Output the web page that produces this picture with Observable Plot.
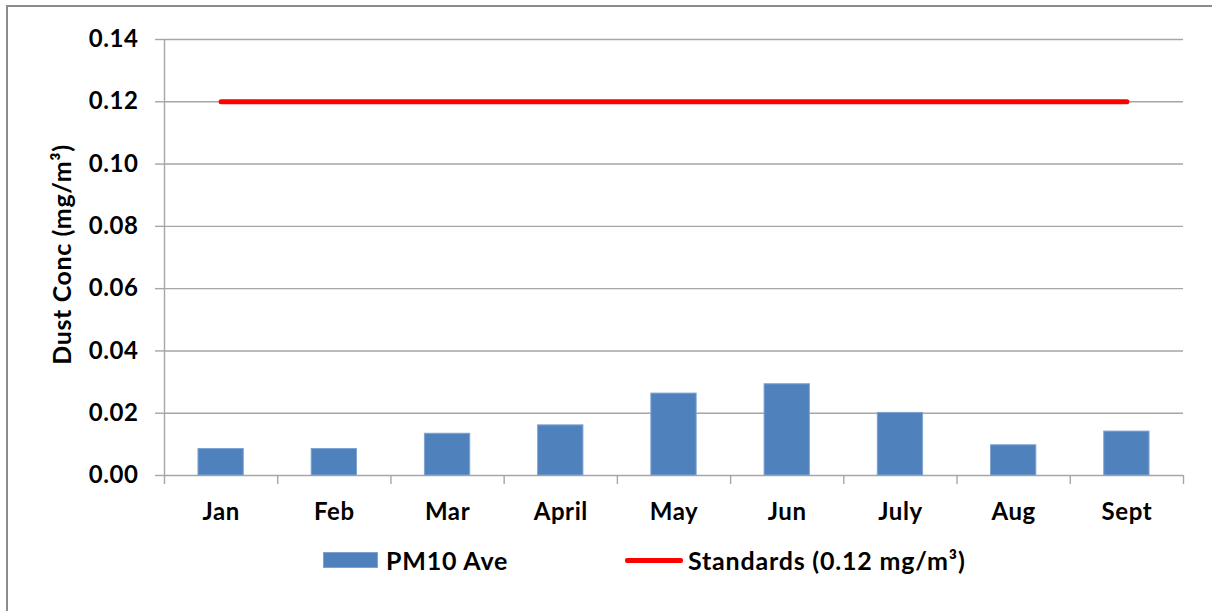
<!DOCTYPE html>
<html>
<head>
<meta charset="utf-8">
<script src="https://cdn.jsdelivr.net/npm/d3@7"></script>
<script src="https://cdn.jsdelivr.net/npm/@observablehq/plot@0.6"></script>
<style>
  html, body { margin: 0; padding: 0; background: #fff; overflow: hidden; width: 1212px; height: 611px; }
  #frame { position: absolute; left: 6px; top: 5px; width: 1400px; height: 800px; border-left: 2px solid #8c8c8c; border-top: 2px solid #8c8c8c; }
  #chart { position: absolute; left: 0; top: 0; }
  #chart svg text { letter-spacing: 0.6px; }
  #legend { position: absolute; left: 0; top: 530px; width: 1212px; height: 81px; font-family: Lato, sans-serif; font-weight: bold; font-size: 25px; letter-spacing: 0.8px; color: #000; }
  .item { position: absolute; top: 16px; height: 28px; display: flex; align-items: center; white-space: nowrap; }
  .sw { width: 55px; height: 16px; background: #4f81bd; margin-right: 8px; box-sizing: border-box; border: 1px solid #7fa3d0; }
  .ln { width: 58px; height: 5px; background: #ff0000; border-radius: 2px; margin-right: 5px; }
</style>
</head>
<body>
<div id="frame"></div>
<div id="chart"></div>
<div id="legend"></div>
<script>
const months = ["Jan", "Feb", "Mar", "April", "May", "Jun", "July", "Aug", "Sept"];
const pm10 = [0.0085, 0.0085, 0.0134, 0.0161, 0.0263, 0.0293, 0.0201, 0.0097, 0.0141];
const standards = [0.12, 0.12, 0.12, 0.12, 0.12, 0.12, 0.12, 0.12, 0.12];
const yTicks = [0, 0.02, 0.04, 0.06, 0.08, 0.10, 0.12, 0.14];
const yLabel = "Dust Conc (mg/m³)";
const seriesNames = ["PM10 Ave", "Standards (0.12 mg/m³)"];

const bars = months.map((m, i) => ({i, month: m, value: pm10[i]}));
const stdLine = months.map((m, i) => ({i, value: standards[i]}));
const boundaries = d3.range(months.length + 1).map(k => k - 0.5);

const gridColor = "#a6a6a6";
const font = "Lato, sans-serif";

const chart = Plot.plot({
  width: 1212,
  height: 530,
  marginLeft: 164,
  marginRight: 29,
  marginTop: 39,
  marginBottom: 55,
  style: {fontFamily: font, background: "transparent", overflow: "visible"},
  x: {type: "linear", domain: [-0.5, months.length - 0.5], axis: null},
  y: {domain: [0, 0.14], axis: null},
  marks: [
    Plot.ruleY(yTicks, {y: d => d, x1: -0.5, x2: months.length - 0.5, stroke: gridColor, strokeWidth: 1.4}),
    Plot.ruleX([-0.5], {x: d => d, y1: 0, y2: 0.14, stroke: gridColor, strokeWidth: 1.4}),
    Plot.axisY({ticks: yTicks, tickSize: 9, tickPadding: 17, tickFormat: d3.format(".2f"),
      stroke: gridColor, strokeWidth: 1.4, strokeOpacity: 1, fontSize: 24, fontWeight: "bold", fill: "#000", label: null}),
    Plot.axisX({ticks: boundaries, tickSize: 9, tickFormat: () => "", stroke: gridColor, strokeWidth: 1.4, strokeOpacity: 1, label: null}),
    Plot.axisX({ticks: d3.range(months.length), tickSize: 0, tickPadding: 27, tickFormat: i => months[i],
      fontSize: 24, fontWeight: "bold", fill: "#000", label: null}),
    Plot.rectY(bars, {x1: d => d.i - 0.2, x2: d => d.i + 0.2, y1: 0, y2: "value", fill: "#4f81bd", stroke: "#7fa3d0", strokeWidth: 1}),
    Plot.line(stdLine, {x: "i", y: "value", stroke: "#ff0000", strokeWidth: 5, strokeLinecap: "round"}),
    Plot.text([yLabel], {text: d => d, frameAnchor: "left", textAnchor: "middle", rotate: -90, dx: -102, dy: -3, fontSize: 25, fontWeight: "bold", fill: "#000"})
  ]
});
document.getElementById("chart").appendChild(chart);

const legend = document.getElementById("legend");
legend.innerHTML =
  `<div class="item" style="left:323px"><span class="sw"></span><span>${seriesNames[0]}</span></div>` +
  `<div class="item" style="left:625px"><span class="ln"></span><span>${seriesNames[1]}</span></div>`;
</script>
</body>
</html>
